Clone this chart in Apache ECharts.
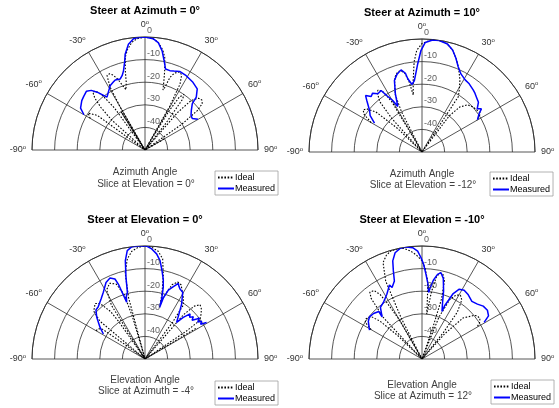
<!DOCTYPE html>
<html>
<head>
<meta charset="utf-8">
<script src="https://cdn.jsdelivr.net/npm/echarts@6/dist/echarts.min.js"></script>
<style>
html,body{margin:0;padding:0;background:#fff;}
#chart{width:559px;height:408px;}
</style>
</head>
<body>
<div id="chart"></div>
<script>
// ---------- data ----------
const titles = ['Steer at Azimuth = 0°', 'Steer at Azimuth = 10°', 'Steer at Elevation = 0°', 'Steer at Elevation = -10°'];
const xLabels = ['Azimuth Angle', 'Azimuth Angle', 'Elevation Angle', 'Elevation Angle'];
const sliceLabels = ['Slice at Elevation = 0°', 'Slice at Elevation = -12°', 'Slice at Azimuth = -4°', 'Slice at Azimuth = 12°'];
const legendNames = ['Ideal', 'Measured'];
const angleTicks = [-90, -60, -30, 0, 30, 60, 90];
const radiusTicks = [0, -10, -20, -30, -40];

// Top-left: Steer at Azimuth = 0
const tlIdealAng = [-60, -57, -54, -51, -48, -46, -44, -42, -40, -38, -36, -34, -32, -31, -30, -29, -27, -25, -23, -21, -19, -17.5, -16.5, -15.5, -14, -12, -10, -7, -4, 0, 4, 7, 10, 12, 14, 15.5, 16.7, 17.5, 19, 21, 24, 26, 28, 29.5, 30.5, 31.5, 33, 35, 36.5, 38, 39.5, 41, 43, 46, 48.6, 51, 53, 55, 57, 60];
const tlIdealDb  = [-22, -20, -24, -50, -30, -22.8, -18, -15.5, -16, -19, -27, -50, -30, -50, -28, -18, -13, -12.8, -14, -16.5, -20, -22, -23, -19, -14, -8, -5, -2, -0.6, 0, -0.6, -2, -5, -8, -14, -19, -22.3, -21, -16, -13.5, -12.2, -13, -17, -28, -50, -30, -22, -20, -22, -35, -50, -28, -20, -17, -16.5, -17.4, -21, -30, -50, -40];
const tlMeasAng = [-60, -57, -52, -49, -45, -42, -39.6, -35.7, -33, -30, -28.3, -25, -23, -19.2, -17, -15.2, -13, -11.7, -8.9, -5.9, -3, 0, 4.2, 7, 9.8, 12.1, 14.2, 17.4, 20, 23.8, 29, 35.3, 40.5, 44.1, 45.6, 49.4, 53, 56.4, 59.8];
const tlMeasDb  = [-18.8, -16, -14.5, -14, -13.3, -14.5, -16.8, -21.2, -20, -18.5, -17.6, -16.8, -16.3, -16.7, -15.5, -13.7, -10, -6.7, -2.6, -0.5, -0.1, 0, -0.6, -2.1, -5.5, -9.6, -13, -13.2, -12.8, -12, -12.4, -13.3, -14.4, -17.4, -20.7, -23, -24.5, -24.9, -22.9];

// Top-right: Steer at Azimuth = 10
const trIdealAng = [-60, -57, -54.5, -52, -49, -46, -44, -42, -40, -37, -35.4, -33, -31, -29, -27, -25, -23.3, -21.5, -19.8, -17, -15, -12.5, -10.5, -8.7, -7, -5, -3, 0, 4, 7, 10, 13, 16.7, 20.7, 24, 27.8, 31, 33.3, 35, 37, 40, 44, 48, 52, 56, 58, 60];
const trIdealDb  = [-24, -19.5, -18, -19, -23, -35, -50, -30, -21, -17, -16.4, -18, -24, -50, -30, -22, -21.7, -17, -14.7, -13, -12.8, -14, -18, -24.5, -18, -10, -5, -2, -0.5, 0, -0.2, -0.9, -2.9, -6.5, -10, -14, -18, -20.7, -50, -30, -24, -21, -20, -19.5, -19, -20, -22];
const trMeasAng = [-58.7, -55, -51.6, -47, -45, -42.5, -40, -37.2, -33.6, -32, -29.6, -28, -24.6, -21.1, -18, -14.3, -11.9, -11, -8.4, -6.1, -2.8, -0.6, 1.7, 5.4, 8.8, 13.3, 16.7, 19.8, 23, 26.5, 30.9, 34.7, 39.5, 42, 44.8, 48.6, 52, 54, 56.2, 59.8];
const trMeasDb  = [-25.4, -22, -20.4, -16.6, -14.7, -16.7, -16, -17.7, -17.3, -20.5, -23.8, -27.2, -21.7, -16.1, -14, -12.5, -14.4, -17, -19.8, -18.2, -11, -5.1, -1.5, -0.2, -0.1, -0.9, -2.9, -5.8, -9, -11.4, -12.8, -13.3, -14.4, -15, -15.8, -16.7, -19, -17.5, -19.6, -21.6];

// Bottom-left: Steer at Elevation = 0
const blIdealAng = [-60, -57, -55, -54, -53, -50, -47, -42, -39, -36, -35, -34, -32, -29, -25, -21, -18, -16.5, -16, -15, -13, -10, -7, -3.5, 0, 3.5, 7, 10, 12.3, 14.5, 15.6, 16.5, 18, 20, 23, 26, 29, 32, 35.4, 37, 38.5, 41, 43, 45.4, 48, 51, 54.9, 56, 57, 59, 60];
const blIdealDb  = [-25, -25.4, -27, -40, -50, -24, -19, -17, -18.4, -24, -30, -50, -22, -15, -13, -14.5, -20, -30, -50, -22, -11, -5, -2, -0.5, 0, -0.5, -2, -5, -12, -20, -25.3, -22, -19, -15, -13, -13.5, -16, -18, -20.8, -30, -50, -24, -18, -15.8, -16.5, -18, -20.3, -28, -50, -24, -23];
const blMeasAng = [-59, -54.9, -49.2, -45, -42, -40.2, -36, -32, -27, -23.4, -20.6, -19.6, -18.8, -17.9, -16.5, -14.8, -13.1, -11.3, -9.3, -6.7, -2.5, 0.8, 3.5, 6.3, 8.7, 10.9, 13, 14.3, 15.5, 15.8, 16.7, 18.7, 21.4, 23.8, 25, 26.6, 29.5, 31, 33.7, 37, 40.8, 42.6, 45, 47, 48.8, 50.5, 52.3, 53, 55, 56.4, 58, 59.3];
const blMeasDb  = [-28.5, -25.7, -21.8, -19.3, -19, -19.2, -17, -15.2, -12, -11, -12.2, -14.8, -19.3, -23.6, -21, -19.5, -12.9, -5.6, -1.4, 0, 0, 0, -1.2, -3.2, -6, -10.2, -14, -17.3, -22.4, -26.3, -21.8, -17.8, -15.6, -13.4, -14.5, -15.4, -16.1, -18, -20.8, -25, -28.6, -25, -21.8, -23, -21.6, -23, -21.1, -19.9, -21.5, -19.9, -21, -18.3];

// Bottom-right: Steer at Elevation = -10
const brIdealAng = [-60, -57, -54, -52, -50, -48, -46, -45, -43, -40, -38, -35, -33, -32, -30, -28, -27, -25, -22, -19, -16, -12, -9, -6, -3, 0, 2, 4, 5, 6, 8, 10, 12, 14, 16, 18, 19, 20, 22, 25, 28, 31, 34, 37, 39, 40, 42, 45, 48, 50, 52, 55, 58, 60];
const brIdealDb  = [-24, -20, -19.5, -19.7, -21, -25, -35, -50, -25, -15, -12.5, -13, -16, -20, -30, -50, -30, -12, -4, -1.5, -0.2, 0, -0.5, -2, -4, -6.5, -10, -15, -22, -30, -20, -13, -11, -11.5, -14, -22, -35, -50, -30, -21, -18, -17, -18.5, -24, -35, -50, -35, -24.3, -22, -20, -19, -18.7, -20, -22];
const brMeasAng = [-61.2, -55, -51.2, -46.8, -42.3, -43.4, -38.9, -34.3, -28.5, -23.7, -22.7, -19.5, -18, -16.6, -14.2, -11.2, -8.1, -4.8, -2.3, -0.6, 1, 2.7, 4.6, 5.7, 6.6, 8.2, 10.4, 12.4, 14.8, 17.6, 20, 22.8, 23, 24.3, 25.5, 28.1, 31.5, 35.8, 40.9, 45.3, 49.2, 53.3, 57, 59.5];
const brMeasDb  = [-23.5, -21, -20.2, -20.6, -21.6, -24.3, -20.7, -19.7, -17.4, -14.2, -15.7, -13.4, -9, -4.7, -1.5, -0.1, 0, -0.6, -2.2, -5.1, -8.1, -12.5, -16.8, -20.4, -18.2, -14.8, -11.9, -10.9, -13.1, -18.4, -23.4, -27.2, -24.4, -21.5, -17.9, -15, -14.3, -15, -16.3, -15.5, -14.2, -13.9, -14.9, -18.1];

// ---------- layout ----------
const FONT = 'Liberation Sans, Arial, Helvetica, sans-serif';
const panels = [
  {cx: 145, cy: 150, titleY: 11, xlY: 172, slY: 184, legL: 215, legT: 171, ideal: [tlIdealAng, tlIdealDb], meas: [tlMeasAng, tlMeasDb]},
  {cx: 422, cy: 152, titleY: 13, xlY: 174, slY: 185, legL: 490, legT: 172, ideal: [trIdealAng, trIdealDb], meas: [trMeasAng, trMeasDb]},
  {cx: 145, cy: 359, titleY: 220, xlY: 380, slY: 391, legL: 215, legT: 381, ideal: [blIdealAng, blIdealDb], meas: [blMeasAng, blMeasDb]},
  {cx: 422, cy: 359, titleY: 220, xlY: 385, slY: 396, legL: 491, legT: 380, ideal: [brIdealAng, brIdealDb], meas: [brMeasAng, brMeasDb]}
];
const R = 113;
const GRID = '#2b2b2b';

function pairs(ang, db) { return ang.map((a, i) => [db[i], a]); }

const polar = [], angleAxis = [], radiusAxis = [], series = [], graphic = [], legend = [];
panels.forEach((p, i) => {
  polar.push({center: [p.cx, p.cy], radius: R});
  angleAxis.push({
    polarIndex: i, type: 'value', min: angleTicks[0], max: angleTicks[angleTicks.length - 1], interval: 30,
    startAngle: 180, endAngle: 0, clockwise: true,
    axisLine: {show: true, lineStyle: {color: GRID, width: 0.8}},
    axisTick: {show: false},
    splitLine: {show: true, lineStyle: {color: GRID, width: 0.8}},
    axisLabel: {
      show: true, margin: 6, showMinLabel: true, showMaxLabel: true,
      formatter: v => '{n|' + v + '}{s|o}',
      rich: {
        n: {fontSize: 9, color: '#333', fontFamily: FONT, lineHeight: 12},
        s: {fontSize: 6, color: '#333', fontFamily: FONT, verticalAlign: 'top', lineHeight: 12, padding: [0, 0, 4, 0]}
      }
    }
  });
  radiusAxis.push({
    polarIndex: i, type: 'value', min: -50, max: 0, interval: 10,
    axisLine: {show: false}, axisTick: {show: false}, axisLabel: {show: false},
    splitLine: {show: true, lineStyle: {color: GRID, width: 0.8}}
  });
  series.push({
    type: 'line', name: legendNames[0], coordinateSystem: 'polar', polarIndex: i,
    data: pairs(p.ideal[0], p.ideal[1]), symbol: 'none', showSymbol: false, smooth: false,
    lineStyle: {color: '#000', width: 1.1, type: [1.6, 1.6]}, itemStyle: {color: '#000'}, z: 3
  });
  series.push({
    type: 'line', name: legendNames[1], coordinateSystem: 'polar', polarIndex: i,
    data: pairs(p.meas[0], p.meas[1]), symbol: 'none', showSymbol: false, smooth: false,
    lineStyle: {color: '#0000ff', width: 1.5}, itemStyle: {color: '#0000ff'}, z: 4
  });
  series.push({
    type: 'scatter', coordinateSystem: 'polar', polarIndex: i, silent: true,
    data: radiusTicks.map(r => [r, 0]), symbolSize: 0, z: 5,
    label: {show: true, position: 'right', distance: 2, offset: [0, -6],
      formatter: q => String(q.value[0]), fontSize: 9, color: '#333', fontFamily: FONT}
  });
  graphic.push({type: 'text', x: p.cx, y: p.titleY, style: {text: titles[i], font: 'bold 11px ' + FONT, fill: '#000', align: 'center', verticalAlign: 'middle', textAlign: 'center', textVerticalAlign: 'middle'}});
  graphic.push({type: 'text', x: p.cx, y: p.xlY, style: {text: xLabels[i], font: '10px ' + FONT, fill: '#404040', align: 'center', verticalAlign: 'middle', textAlign: 'center', textVerticalAlign: 'middle'}});
  graphic.push({type: 'text', x: p.cx + 1, y: p.slY, style: {text: sliceLabels[i], font: '10px ' + FONT, fill: '#404040', align: 'center', verticalAlign: 'middle', textAlign: 'center', textVerticalAlign: 'middle'}});
  legend.push({
    left: p.legL, top: p.legT, orient: 'vertical', data: legendNames,
    itemWidth: 16, itemHeight: 8, itemGap: 2, padding: [2, 3, 2, 2],
    borderColor: '#a0a0a0', borderWidth: 0.8, backgroundColor: '#fff',
    itemStyle: {opacity: 0},
    textStyle: {fontSize: 9, color: '#000', fontFamily: FONT, padding: [0, 0, 0, -4]},
    selectedMode: false
  });
});

const chart = echarts.init(document.getElementById('chart'), null, {renderer: 'canvas'});
chart.setOption({
  animation: false,
  backgroundColor: '#fff',
  textStyle: {fontFamily: FONT},
  polar, angleAxis, radiusAxis, series, graphic, legend
});
</script>
</body>
</html>
